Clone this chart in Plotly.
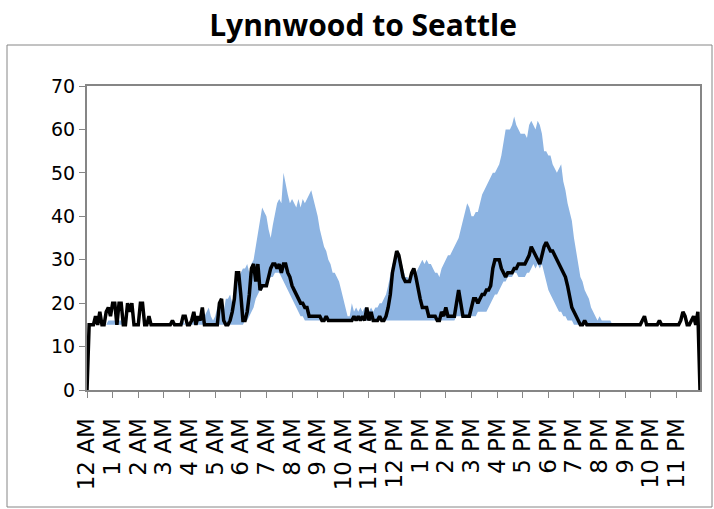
import plotly.graph_objects as go

# 5-minute samples across the day (minutes after midnight)
MINUTES = list(range(0, 1440, 5))

HOUR_LABELS = [
    "12 AM", "1 AM", "2 AM", "3 AM", "4 AM", "5 AM", "6 AM", "7 AM",
    "8 AM", "9 AM", "10 AM", "11 AM", "12 PM", "1 PM", "2 PM", "3 PM",
    "4 PM", "5 PM", "6 PM", "7 PM", "8 PM", "9 PM", "10 PM", "11 PM",
]
HOUR_TICKS = [60 * h for h in range(24)]

# travel time of the selected day, one row per hour
travel_time = (
    [0, 15, 15, 15, 17, 15, 18, 15, 15, 18, 19, 17]
    + [20, 20, 15, 20, 20, 15, 15, 20, 18, 20, 15, 15]
    + [15, 20, 20, 15, 15, 17, 15, 15, 15, 15, 15, 15]
    + [15, 15, 15, 15, 16, 15, 15, 15, 15, 17, 17, 15]
    + [15, 16, 18, 15, 17, 16, 19, 15, 15, 15, 15, 15]
    + [15, 15, 20, 21, 16, 15, 15, 16, 18, 21, 27, 27]
    + [22, 16, 16, 18, 22, 28, 29, 25, 29, 23, 24, 24]
    + [24, 26, 28, 29, 29, 28, 29, 27, 29, 29, 27, 26]
    + [24, 23, 22, 21, 20, 20, 19, 19, 17, 17, 17, 17]
    + [17, 17, 16, 16, 17, 16, 16, 16, 16, 16, 16, 16]
    + [16, 16, 16, 16, 16, 17, 16, 17, 16, 17, 16, 19]
    + [16, 18, 16, 16, 16, 17, 16, 16, 17, 19, 22, 27]
    + [30, 32, 31, 28, 26, 25, 25, 25, 27, 28, 26, 23]
    + [21, 19, 19, 19, 17, 17, 17, 17, 16, 16, 18, 17]
    + [19, 17, 17, 17, 17, 20, 23, 20, 17, 17, 17, 17]
    + [19, 21, 21, 20, 21, 22, 22, 23, 23, 24, 28, 30]
    + [30, 30, 28, 27, 26, 27, 27, 27, 28, 28, 29, 29]
    + [29, 29, 30, 31, 33, 32, 31, 30, 29, 31, 33, 34]
    + [33, 32, 32, 31, 30, 29, 28, 27, 26, 24, 21, 19]
    + [18, 17, 16, 15, 15, 16, 15, 15, 15, 15, 15, 15]
    + [15, 15, 15, 15, 15, 15, 15, 15, 15, 15, 15, 15]
    + [15, 15, 15, 15, 15, 15, 15, 15, 16, 17, 15, 15]
    + [15, 15, 15, 15, 16, 15, 15, 15, 15, 15, 15, 15]
    + [15, 15, 16, 18, 17, 15, 15, 16, 17, 15, 18, 0]
)

# upper edge of the typical range
range_high = (
    [15, 15, 15, 15, 15, 15, 15, 15, 15, 15, 16, 16]
    + [16, 16, 16, 16, 16, 15, 15, 15, 15, 15, 15, 15]
    + [15, 15, 15, 15, 15, 15, 15, 15, 15, 15, 15, 15]
    + [15, 15, 15, 15, 15, 15, 15, 15, 16, 16, 15, 15]
    + [15, 16, 17, 16, 16, 17, 18, 17, 18, 19, 17, 16]
    + [17, 19, 20, 19, 18, 21, 21, 22, 20, 22, 25, 26]
    + [27, 28, 28, 29, 27, 29, 30, 33, 36, 39, 42, 41]
    + [40, 37, 35, 38, 41, 43, 44, 43, 50, 47, 45, 43]
    + [44, 43, 42, 44, 42, 44, 43, 44, 45, 46, 44, 42]
    + [40, 37, 35, 33, 32, 30, 29, 27, 27, 26, 25, 23]
    + [21, 19, 17, 17, 20, 18, 19, 18, 19, 18, 19, 19]
    + [18, 19, 18, 19, 19, 20, 20, 21, 22, 24, 27, 29]
    + [30, 31, 31, 30, 28, 26, 26, 25, 26, 28, 27, 28]
    + [29, 30, 29, 30, 29, 29, 28, 27, 27, 26, 28, 29]
    + [30, 31, 31, 32, 33, 34, 35, 37, 39, 41, 43, 42]
    + [40, 40, 41, 41, 43, 45, 46, 47, 48, 49, 50, 50]
    + [51, 52, 54, 57, 60, 60, 60, 61, 63, 61, 60, 59]
    + [59, 59, 58, 61, 62, 61, 60, 62, 61, 59, 55, 55]
    + [54, 54, 52, 51, 50, 51, 52, 48, 46, 43, 41, 39]
    + [35, 32, 29, 26, 25, 23, 22, 21, 19, 18, 17, 16]
    + [17, 16, 16, 16, 16, 16, 15, 15, 15, 15, 15, 15]
    + [15, 15, 15, 15, 15, 15, 15, 15, 15, 15, 15, 15]
    + [15, 15, 15, 15, 15, 15, 15, 15, 15, 15, 15, 15]
    + [15, 15, 15, 15, 15, 15, 15, 15, 15, 15, 15, 15]
)

# lower edge of the typical range
range_low = (
    [15] * 12 + [15] * 12 + [15] * 12 + [15] * 12 + [15] * 12 + [15] * 12
    + [15, 15, 16, 16, 17, 18, 19, 21, 22, 23, 23, 24]
    + [24, 25, 26, 26, 27, 27, 27, 26, 25, 24, 23, 22]
    + [21, 20, 19, 18, 17, 17, 16, 16, 16, 16, 16, 16]
    + [16] * 12 + [16] * 12 + [16] * 12 + [16] * 12 + [16] * 12
    + [16, 16, 16, 16, 16, 17, 17, 17, 17, 17, 17, 17]
    + [17, 17, 17, 18, 18, 18, 18, 18, 19, 20, 21, 22]
    + [22, 23, 24, 25, 25, 26, 26, 26, 27, 27, 26, 26]
    + [26, 26, 27, 27, 28, 29, 28, 29, 28, 29, 27, 25]
    + [23, 22, 21, 20, 19, 18, 18, 17, 17, 16, 16, 16]
    + [15] * 12 + [15] * 12 + [15] * 12 + [15] * 12 + [15] * 12
)

BAND_BLUE = "rgb(141,180,226)"
FRAME_GRAY = "#868686"

fig = go.Figure()
fig.add_trace(go.Scatter(
    x=MINUTES, y=range_low, mode="lines",
    line=dict(width=0, color="rgba(0,0,0,0)"),
    hoverinfo="skip", showlegend=False,
))
fig.add_trace(go.Scatter(
    x=MINUTES, y=range_high, mode="lines", fill="tonexty",
    fillcolor=BAND_BLUE, line=dict(width=0, color="rgba(0,0,0,0)"),
    showlegend=False,
))
fig.add_trace(go.Scatter(
    x=MINUTES, y=travel_time, mode="lines",
    line=dict(width=3.5, color="black"),
    showlegend=False,
))

W, H = 714, 509
L, R, T, B = 87, 14, 86, 119
pw, ph = W - L - R, H - T - B

def px_x(p):
    return (p - L) / pw

def px_y(p):
    return (H - B - p) / ph

fig.update_layout(
    width=W, height=H,
    margin=dict(l=L, r=R, t=T, b=B),
    paper_bgcolor="white", plot_bgcolor="white",
    title=dict(
        text="<b>Lynnwood to Seattle</b>",
        x=363 / W, xanchor="center", xref="container",
        y=1 - 25 / H, yanchor="middle", yref="container",
        font=dict(family="Open Sans", size=30, color="black"),
    ),
    xaxis=dict(
        range=[0, 1435], tickmode="array",
        tickvals=HOUR_TICKS, ticktext=HOUR_LABELS, tickangle=-90,
        ticks="outside", ticklen=6, tickwidth=1, tickcolor=FRAME_GRAY,
        ticklabelstandoff=11,
        showgrid=False, zeroline=False,
        showline=True, linecolor=FRAME_GRAY, linewidth=2, mirror=True,
        tickfont=dict(family="DejaVu Sans", size=23, color="black"),
        fixedrange=True,
    ),
    yaxis=dict(
        range=[0, 70], tickmode="array", tickvals=list(range(0, 80, 10)),
        ticks="outside", ticklen=6, tickwidth=1, tickcolor=FRAME_GRAY,
        showgrid=False, zeroline=False,
        showline=True, linecolor=FRAME_GRAY, linewidth=2, mirror=True,
        tickfont=dict(family="DejaVu Sans", size=19, color="black"),
        fixedrange=True,
    ),
    shapes=[dict(
        type="rect", xref="paper", yref="paper",
        x0=px_x(7), x1=px_x(712), y0=px_y(507), y1=px_y(45),
        line=dict(color=FRAME_GRAY, width=1), fillcolor="rgba(0,0,0,0)",
        layer="below",
    )],
)

fig.write_html("out.html")
